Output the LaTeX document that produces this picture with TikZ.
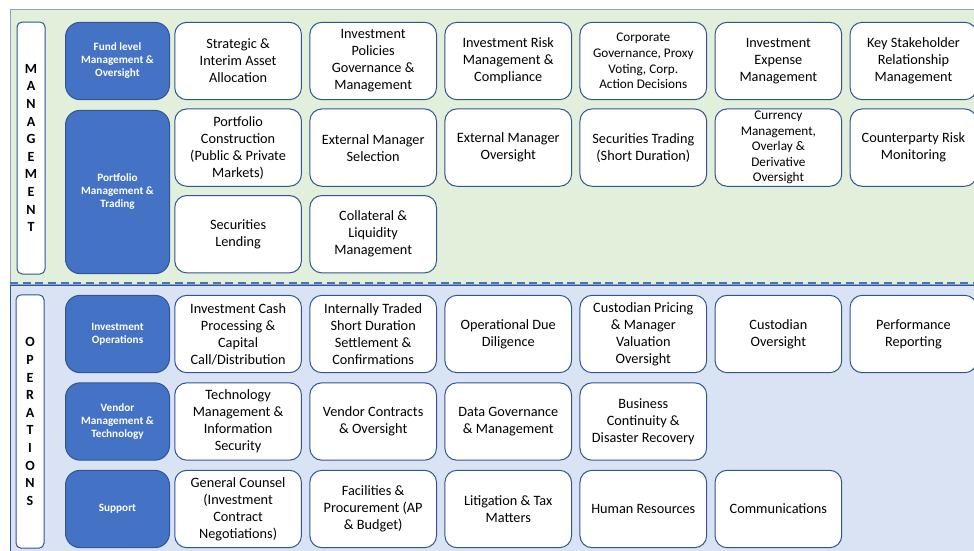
\documentclass[tikz,border=0pt]{standalone}
\usepackage{fontspec}
\setmainfont{Carlito}
\usepackage{tikz}
\usetikzlibrary{positioning}

\definecolor{mgmtbg}{HTML}{E2EFDA}
\definecolor{opsbg}{HTML}{DAE3F3}
\definecolor{catblue}{HTML}{4472C4}
\definecolor{edgeblue}{HTML}{2F5597}

\begin{document}
\begin{tikzpicture}[x=0.75pt, y=-0.75pt,
  node distance=6.2pt and 5.55pt,
  cell/.style={draw=edgeblue, line width=0.75pt, fill=white, rounded corners=9pt,
    minimum width=95pt, minimum height=58pt, inner sep=0pt, align=center,
    font=\fontsize{10.7}{12.75}\selectfont},
  small/.style={font=\fontsize{9.9}{11.7}\selectfont},
  cat/.style={draw=edgeblue, line width=0.75pt, fill=catblue, text=white, rounded corners=11pt,
    minimum width=78pt, minimum height=58pt, inner sep=0pt, align=center,
    font=\fontsize{8.4}{9.75}\selectfont\bfseries},
  side/.style={draw=edgeblue, line width=0.75pt, fill=white, rounded corners=3.75pt,
    minimum width=21pt, inner sep=0pt, align=center,
    font=\fontsize{10.5}{13.2}\selectfont\bfseries}]
  \useasboundingbox (0,0) rectangle (974,550);
  %background bands
  \fill[mgmtbg, draw=edgeblue!55] (10,9.5) rectangle (990,284);
  \fill[opsbg, draw=edgeblue] (10,285) rectangle (990,565);
  \draw[catblue, line width=1.5pt, dash pattern=on 6pt off 3.5pt] (10,283) -- (990,283);
  %side labels
  \node[side, minimum height=189pt] (mg) at (31,148) {M\\A\\N\\A\\G\\E\\M\\E\\N\\T};
  \node[side, minimum height=190pt] (op) at (30,421.5) {O\\P\\E\\R\\A\\T\\I\\O\\N\\S};
  %management categories
  \node[cat] (fund) at (117.5,61) {Fund level\\Management \&\\Oversight};
  \node[cat, minimum height=122.5pt] (port) at (117.5,192) {Portfolio\\Management \&\\Trading};
  %first management row
  \node[cell, right=3.2pt of fund] (a1) {Strategic \&\\Interim Asset\\Allocation};
  \node[cell, right=of a1] (a2) {Investment\\Policies\\Governance \&\\Management};
  \node[cell, right=of a2] (a3) {Investment Risk\\Management \&\\Compliance};
  \node[cell, small, right=of a3] (a4) {Corporate\\Governance, Proxy\\Voting, Corp.\\Action Decisions};
  \node[cell, right=of a4] (a5) {Investment\\Expense\\Management};
  \node[cell, right=of a5] (a6) {Key Stakeholder\\Relationship\\Management};
  %portfolio rows
  \node[cell, below=of a1] (b1) {Portfolio\\Construction\\(Public \& Private\\Markets)};
  \node[cell, right=of b1] (b2) {External Manager\\Selection};
  \node[cell, right=of b2] (b3) {External Manager\\Oversight};
  \node[cell, right=of b3] (b4) {Securities Trading\\(Short Duration)};
  \node[cell, small, right=of b4] (b5) {Currency\\Management,\\Overlay \&\\Derivative\\Oversight};
  \node[cell, right=of b5] (b6) {Counterparty Risk\\Monitoring};
  \node[cell, below=of b1] (c1) {Securities\\Lending};
  \node[cell, right=of c1] (c2) {Collateral \&\\Liquidity\\Management};
  %operations categories
  \node[cat] (invops) at (117.5,334) {Investment\\Operations};
  \node[cat] (vendor) at (117.5,421.5) {Vendor\\Management \&\\Technology};
  \node[cat] (supp) at (117.5,509) {Support};
  %investment operations row
  \node[cell, right=3.2pt of invops] (d1) {Investment Cash\\Processing \&\\Capital\\Call/Distribution};
  \node[cell, right=of d1] (d2) {Internally Traded\\Short Duration\\Settlement \&\\Confirmations};
  \node[cell, right=of d2] (d3) {Operational Due\\Diligence};
  \node[cell, right=of d3] (d4) {Custodian Pricing\\\& Manager\\Valuation\\Oversight};
  \node[cell, right=of d4] (d5) {Custodian\\Oversight};
  \node[cell, right=of d5] (d6) {Performance\\Reporting};
  %vendor row
  \node[cell, right=3.2pt of vendor] (e1) {Technology\\Management \&\\Information\\Security};
  \node[cell, right=of e1] (e2) {Vendor Contracts\\\& Oversight};
  \node[cell, right=of e2] (e3) {Data Governance\\\& Management};
  \node[cell, right=of e3] (e4) {Business\\Continuity \&\\Disaster Recovery};
  %support row
  \node[cell, right=3.2pt of supp] (f1) {General Counsel\\(Investment\\Contract\\Negotiations)};
  \node[cell, right=of f1] (f2) {Facilities \&\\Procurement (AP\\\& Budget)};
  \node[cell, right=of f2] (f3) {Litigation \& Tax\\Matters};
  \node[cell, right=of f3] (f4) {Human Resources};
  \node[cell, right=of f4] (f5) {Communications};
\end{tikzpicture}
\end{document}
